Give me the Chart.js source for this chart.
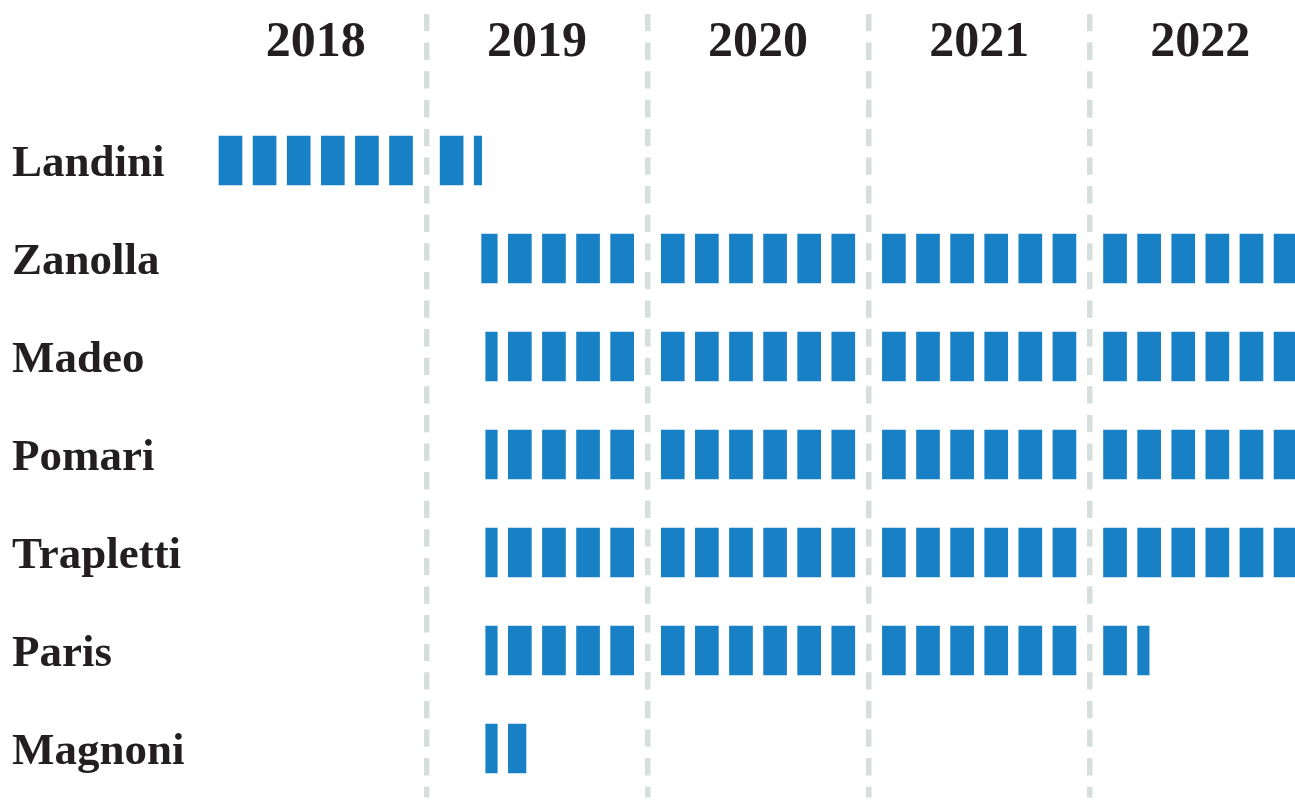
<!DOCTYPE html>
<html lang="it">
  <head>
    <meta charset="utf-8" />
    <title>Mandati</title>
    <style>
      html, body { margin: 0; padding: 0; background: #ffffff; }
      #wrap { width: 1295px; height: 802px; position: relative; }
    </style>
  </head>
  <body>
    <div id="wrap"><canvas id="chart"></canvas></div>
    <script src="https://cdn.jsdelivr.net/npm/chart.js@4"></script>
    <script>
      // one row per person, dates (each block = two months)
      const names = ["Landini", "Zanolla", "Madeo", "Pomari", "Trapletti", "Paris", "Magnoni"];
      const startDates = ["2018-01-01", "2019-03-21", "2019-04-01", "2019-04-01", "2019-04-01", "2019-04-01", "2019-04-01"];
      // null = still in office at the end of the chart
      const endDates = ["2019-03-21", null, null, null, null, "2022-04-01", "2019-06-17"];
      const years = ["2018", "2019", "2020", "2021", "2022"];

      const firstYear = 2018;
      const slotsPerYear = 6;

      // layout, in slot units
      const yearPitch = 6.484;  // slots + gap between years
      const blockWidth = 0.6745; // block width inside a slot
      const dividerOffset = 5 + blockWidth + 0.41;

      const blue = "#1880c4";
      const dashColor = "#d6dfde";
      const ink = "#231f20";

      let toSlots = function (d) {
        if (d === null) return years.length * slotsPerYear;
        let [y, m, day] = d.split("-").map(Number);
        let dim = new Date(y, m, 0).getDate();
        return (y - firstYear) * slotsPerYear + (m - 1) / 2 + (day - 1) / dim / 2;
      };

      let points = [];
      names.forEach(function (name, i) {
        let start = toSlots(startDates[i]);
        let end = toSlots(endDates[i]);
        for (let g = Math.floor(start); g < Math.ceil(end); g++) {
          let f0 = Math.max(start, g) - g;
          let f1 = Math.min(end, g + 1) - g;
          if (f1 - f0 < 0.001) continue;
          let yr = Math.floor(g / slotsPerYear);
          let s = g % slotsPerYear;
          let base = yr * yearPitch + s;
          points.push({ y: name, x: [base + f0 * blockWidth, base + f1 * blockWidth] });
        }
      });

      // top axis ticks: year labels in the middle, dashed dividers between years
      let yearCenters = years.map((y, k) => k * yearPitch + (5 + blockWidth) / 2);
      let dividers = years.slice(1).map((y, k) => k * yearPitch + dividerOffset);
      let topTicks = yearCenters.concat(dividers).sort((a, b) => a - b);
      let isYear = (v) => yearCenters.some((c) => Math.abs(c - v) < 1e-6);

      const tickLen = 97.5;
      const dashOn = 17.3, dashOff = 11.3;

      new Chart(document.getElementById("chart"), {
        type: "bar",
        data: {
          labels: names,
          datasets: [
            {
              data: points,
              backgroundColor: blue,
              borderWidth: 0,
              barThickness: 49,
            },
          ],
        },
        options: {
          indexAxis: "y",
          responsive: true,
          maintainAspectRatio: false,
          animation: false,
          layout: { padding: { left: 12, right: 0, top: 0, bottom: 4.5 } },
          plugins: {
            legend: { display: false },
            tooltip: { enabled: false },
          },
          scales: {
            x: {
              type: "linear",
              position: "top",
              min: -0.557,
              max: 31.55,
              afterFit: function (scale) {
                scale.height = 111.5;
                scale.paddingLeft = 0;
                scale.paddingRight = 0;
              },
              afterBuildTicks: function (scale) {
                scale.ticks = topTicks.map((v) => ({ value: v }));
              },
              border: { display: false, dash: [dashOn, dashOff], dashOffset: tickLen % (dashOn + dashOff) },
              grid: {
                color: (ctx) => (ctx.tick && !isYear(ctx.tick.value) ? dashColor : "rgba(0,0,0,0)"),
                tickColor: (ctx) => (ctx.tick && !isYear(ctx.tick.value) ? dashColor : "rgba(0,0,0,0)"),
                lineWidth: 5.5,
                tickWidth: 5.5,
                tickLength: tickLen,
                tickBorderDash: [dashOn, dashOff],
              },
              ticks: {
                autoSkip: false,
                maxRotation: 0,
                padding: -59,
                color: ink,
                font: { family: "'Liberation Serif', serif", weight: "bold", size: 50 },
                callback: function (value) {
                  let k = yearCenters.findIndex((c) => Math.abs(c - value) < 1e-6);
                  return k >= 0 ? years[k] : "";
                },
              },
            },
            y: {
              type: "category",
              afterFit: function (scale) {
                scale.width = 188;
                scale.paddingTop = 0;
                scale.paddingBottom = 0;
              },
              grid: { display: false },
              border: { display: false },
              ticks: {
                crossAlign: "far",
                labelOffset: 4,
                color: ink,
                font: { family: "'Liberation Serif', serif", weight: "bold", size: 45 },
              },
            },
          },
        },
      });
    </script>
  </body>
</html>
